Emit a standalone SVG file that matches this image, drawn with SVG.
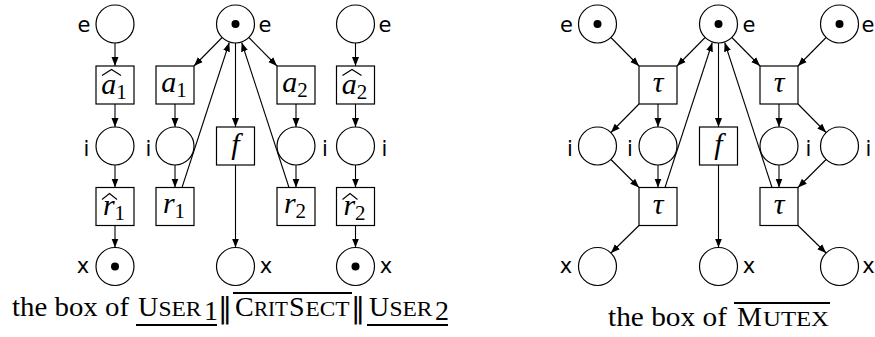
<svg xmlns="http://www.w3.org/2000/svg" width="875" height="337" viewBox="0 0 875 337">
<style>
.pl{fill:#fff;stroke:#000;stroke-width:1.2}
.tr{fill:#fff;stroke:#000;stroke-width:1.2}
.tok{fill:#000}
.lb{font-family:"DejaVu Sans","Liberation Sans",sans-serif;font-size:21px;fill:#000;text-anchor:middle}
.m{font-family:"Liberation Serif",serif;font-style:italic;font-size:30px;fill:#000;text-anchor:middle}
.ms{font-size:21px;font-style:normal}
.hat{fill:none;stroke:#000;stroke-width:1.1}
.cap{font-family:"Liberation Serif",serif;font-size:28px;fill:#000}
.sc{font-size:22px}
.bar{font-family:"DejaVu Sans",sans-serif;font-size:28px;fill:#000}
.ar{fill:none;stroke:#000;stroke-width:1.1;marker-end:url(#ah)}
.rule{stroke:#000;stroke-width:2}
</style>
<defs>
<marker id="ah" markerUnits="userSpaceOnUse" markerWidth="9" markerHeight="8" refX="9" refY="4" orient="auto">
<path d="M0,0.5 L9,4 L0,7.5 z" fill="#000"/>
</marker>
</defs>

<g id="connectors">
<line class="ar" x1="115" y1="43" x2="115" y2="66"/>
<line class="ar" x1="115" y1="104" x2="115" y2="127"/>
<line class="ar" x1="115" y1="165" x2="115" y2="187.5"/>
<line class="ar" x1="115" y1="225.5" x2="115" y2="247.5"/>
<line class="ar" x1="175" y1="104" x2="175" y2="127"/>
<line class="ar" x1="175" y1="165" x2="175" y2="187.5"/>
<line class="ar" x1="296" y1="104" x2="296" y2="127"/>
<line class="ar" x1="296" y1="165" x2="296" y2="187.5"/>
<line class="ar" x1="355.5" y1="43" x2="355.5" y2="66"/>
<line class="ar" x1="355.5" y1="104" x2="355.5" y2="127"/>
<line class="ar" x1="355.5" y1="165" x2="355.5" y2="187.5"/>
<line class="ar" x1="355.5" y1="225.5" x2="355.5" y2="247.5"/>
<line class="ar" x1="222.1" y1="37.5" x2="194" y2="66"/>
<line class="ar" x1="248.9" y1="37.5" x2="277" y2="66"/>
<line class="ar" x1="235.5" y1="43" x2="235.5" y2="127"/>
<line class="ar" x1="235.5" y1="165" x2="235.5" y2="247.5"/>
<line class="ar" x1="182" y1="187.5" x2="229.3" y2="42.5"/>
<line class="ar" x1="289" y1="187.5" x2="241.7" y2="42.5"/>
<line class="ar" x1="610.9" y1="37.5" x2="639" y2="66"/>
<line class="ar" x1="705.1" y1="37.5" x2="677" y2="66"/>
<line class="ar" x1="731.9" y1="37.5" x2="760" y2="66"/>
<line class="ar" x1="826.1" y1="37.5" x2="798" y2="66"/>
<line class="ar" x1="639" y1="104" x2="610.9" y2="132.5"/>
<line class="ar" x1="658" y1="104" x2="658" y2="127"/>
<line class="ar" x1="779" y1="104" x2="779" y2="127"/>
<line class="ar" x1="798" y1="104" x2="826.1" y2="132.5"/>
<line class="ar" x1="610.9" y1="159.5" x2="639" y2="187.5"/>
<line class="ar" x1="658" y1="165" x2="658" y2="187.5"/>
<line class="ar" x1="779" y1="165" x2="779" y2="187.5"/>
<line class="ar" x1="826.1" y1="159.5" x2="798" y2="187.5"/>
<line class="ar" x1="665" y1="187.5" x2="712.3" y2="42.5"/>
<line class="ar" x1="772" y1="187.5" x2="724.7" y2="42.5"/>
<line class="ar" x1="718.5" y1="43" x2="718.5" y2="127"/>
<line class="ar" x1="718.5" y1="165" x2="718.5" y2="247.5"/>
<line class="ar" x1="639" y1="225.5" x2="610.9" y2="253"/>
<line class="ar" x1="798" y1="225.5" x2="826.1" y2="253"/>
</g>

<g id="L-p-e1"><circle class="pl" cx="115" cy="24" r="19"/><text class="lb" x="84" y="32">e</text></g>
<g id="L-p-e"><circle class="pl" cx="235.5" cy="24" r="19"/><circle class="tok" cx="235.5" cy="24" r="4"/><text class="lb" x="265" y="32">e</text></g>
<g id="L-p-e2"><circle class="pl" cx="355.5" cy="24" r="19"/><text class="lb" x="385" y="32">e</text></g>
<g id="L-p-i1a"><circle class="pl" cx="115" cy="146" r="19"/><text class="lb" x="86.5" y="156">i</text></g>
<g id="L-p-i1b"><circle class="pl" cx="175" cy="146" r="19"/><text class="lb" x="148.5" y="156">i</text></g>
<g id="L-p-i2b"><circle class="pl" cx="296" cy="146" r="19"/><text class="lb" x="325" y="156">i</text></g>
<g id="L-p-i2a"><circle class="pl" cx="355.5" cy="146" r="19"/><text class="lb" x="384.5" y="156">i</text></g>
<g id="L-p-x1"><circle class="pl" cx="115" cy="266.5" r="19"/><circle class="tok" cx="115" cy="266.5" r="4"/><text class="lb" x="83" y="273">x</text></g>
<g id="L-p-x"><circle class="pl" cx="235.5" cy="266.5" r="19"/><text class="lb" x="266" y="273">x</text></g>
<g id="L-p-x2"><circle class="pl" cx="355.5" cy="266.5" r="19"/><circle class="tok" cx="355.5" cy="266.5" r="4"/><text class="lb" x="386" y="273">x</text></g>

<g id="L-t-a1h"><rect class="tr" x="96" y="66" width="38" height="38"/><polyline class="hat" points="102,75.5 111.5,69.5 121,75.5"/><text class="m" x="114" y="94">a<tspan class="ms" dy="5">1</tspan></text></g>
<g id="L-t-a1"><rect class="tr" x="156" y="66" width="38" height="38"/><text class="m" x="174" y="92">a<tspan class="ms" dy="5">1</tspan></text></g>
<g id="L-t-a2"><rect class="tr" x="277" y="66" width="38" height="38"/><text class="m" x="295" y="92">a<tspan class="ms" dy="5">2</tspan></text></g>
<g id="L-t-a2h"><rect class="tr" x="336.5" y="66" width="38" height="38"/><polyline class="hat" points="342.5,75.5 352,69.5 361.5,75.5"/><text class="m" x="354.5" y="94">a<tspan class="ms" dy="5">2</tspan></text></g>
<g id="L-t-f"><rect class="tr" x="216.5" y="127" width="38" height="38"/><text class="m" x="235.5" y="154">f</text></g>
<g id="L-t-r1h"><rect class="tr" x="96" y="187.5" width="38" height="38"/><polyline class="hat" points="102,199.5 109.5,193.5 117,199.5"/><text class="m" x="114" y="214.5">r<tspan class="ms" dy="5">1</tspan></text></g>
<g id="L-t-r1"><rect class="tr" x="156" y="187.5" width="38" height="38"/><text class="m" x="174" y="212.5">r<tspan class="ms" dy="5">1</tspan></text></g>
<g id="L-t-r2"><rect class="tr" x="277" y="187.5" width="38" height="38"/><text class="m" x="295" y="212.5">r<tspan class="ms" dy="5">2</tspan></text></g>
<g id="L-t-r2h"><rect class="tr" x="336.5" y="187.5" width="38" height="38"/><polyline class="hat" points="342.5,199.5 350,193.5 357.5,199.5"/><text class="m" x="354.5" y="214.5">r<tspan class="ms" dy="5">2</tspan></text></g>

<g id="R-p-e1"><circle class="pl" cx="597.5" cy="24" r="19"/><circle class="tok" cx="597.5" cy="24" r="4"/><text class="lb" x="566.5" y="32">e</text></g>
<g id="R-p-e"><circle class="pl" cx="718.5" cy="24" r="19"/><circle class="tok" cx="718.5" cy="24" r="4"/><text class="lb" x="749" y="32">e</text></g>
<g id="R-p-e2"><circle class="pl" cx="839.5" cy="24" r="19"/><circle class="tok" cx="839.5" cy="24" r="4"/><text class="lb" x="868" y="32">e</text></g>
<g id="R-p-i1"><circle class="pl" cx="597.5" cy="146" r="19"/><text class="lb" x="570" y="156">i</text></g>
<g id="R-p-i2"><circle class="pl" cx="658" cy="146" r="19"/><text class="lb" x="630" y="156">i</text></g>
<g id="R-p-i3"><circle class="pl" cx="779" cy="146" r="19"/><text class="lb" x="808.5" y="156">i</text></g>
<g id="R-p-i4"><circle class="pl" cx="839.5" cy="146" r="19"/><text class="lb" x="868.5" y="156">i</text></g>
<g id="R-p-x1"><circle class="pl" cx="597.5" cy="266.5" r="19"/><text class="lb" x="566" y="273">x</text></g>
<g id="R-p-x"><circle class="pl" cx="718.5" cy="266.5" r="19"/><text class="lb" x="749" y="273">x</text></g>
<g id="R-p-x2"><circle class="pl" cx="839.5" cy="266.5" r="19"/><text class="lb" x="868.5" y="273">x</text></g>

<g id="R-t-tau1"><rect class="tr" x="639" y="66" width="38" height="38"/><text class="m" x="658" y="92" font-size="28">τ</text></g>
<g id="R-t-tau2"><rect class="tr" x="760" y="66" width="38" height="38"/><text class="m" x="779" y="92" font-size="28">τ</text></g>
<g id="R-t-f"><rect class="tr" x="699.5" y="127" width="38" height="38"/><text class="m" x="718.5" y="154">f</text></g>
<g id="R-t-tau3"><rect class="tr" x="639" y="187.5" width="38" height="38"/><text class="m" x="658" y="213.5" font-size="28">τ</text></g>
<g id="R-t-tau4"><rect class="tr" x="760" y="187.5" width="38" height="38"/><text class="m" x="779" y="213.5" font-size="28">τ</text></g>

<g id="caption-left">
<text class="cap" x="12" y="316" textLength="117" lengthAdjust="spacingAndGlyphs">the box of</text>
<text class="cap" x="138" y="316">U</text>
<text class="cap sc" x="158.5" y="316" textLength="43" lengthAdjust="spacingAndGlyphs">SER</text>
<text class="cap" x="204" y="320" font-size="19">1</text>
<line class="rule" x1="136" y1="325" x2="217" y2="325"/>
<text class="bar" x="218" y="318">‖</text>
<line class="rule" x1="233" y1="293" x2="352" y2="293"/>
<text class="cap" x="235" y="316">C</text>
<text class="cap sc" x="254" y="316" textLength="34" lengthAdjust="spacingAndGlyphs">RIT</text>
<text class="cap" x="289" y="316">S</text>
<text class="cap sc" x="305.5" y="316" textLength="44" lengthAdjust="spacingAndGlyphs">ECT</text>
<text class="bar" x="351" y="318">‖</text>
<text class="cap" x="369" y="316">U</text>
<text class="cap sc" x="389.5" y="316" textLength="43" lengthAdjust="spacingAndGlyphs">SER</text>
<text class="cap" x="435" y="320" font-size="19">2</text>
<line class="rule" x1="367" y1="325" x2="448" y2="325"/>
</g>
<g id="caption-right">
<text class="cap" x="608" y="326" textLength="119" lengthAdjust="spacingAndGlyphs">the box of</text>
<line class="rule" x1="734" y1="303" x2="830" y2="303"/>
<text class="cap" x="737" y="326">M</text>
<text class="cap sc" x="763" y="326" textLength="66" lengthAdjust="spacingAndGlyphs">UTEX</text>
</g>
</svg>
